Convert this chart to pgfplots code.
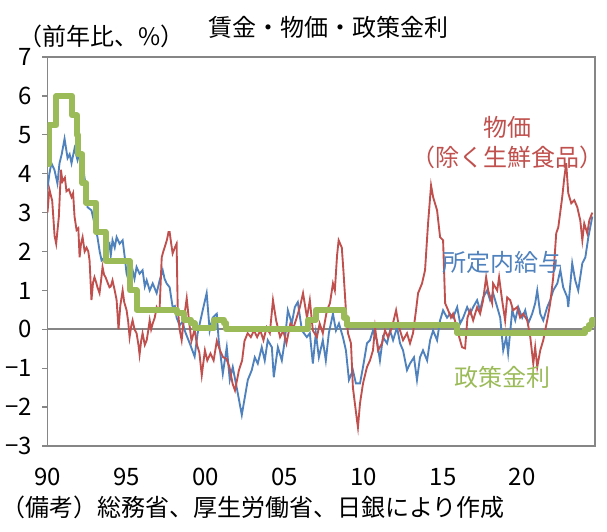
\documentclass[border=0pt]{standalone}
\usepackage{fontspec}
\setmainfont{Noto Sans CJK JP}
\usepackage{pgfplots}
\pgfplotsset{compat=1.18}
\definecolor{wage}{RGB}{79,129,189}
\definecolor{price}{RGB}{192,80,77}
\definecolor{rate}{RGB}{155,187,89}
\definecolor{axgray}{RGB}{134,134,134}
\begin{document}
\begin{tikzpicture}[font=\fontsize{18}{21}\selectfont]
\useasboundingbox (-35.6pt,-63.75pt) rectangle (419.6pt,334.5pt);
\begin{axis}[
  scale only axis,
  width=410.6pt, height=291.75pt,
  at={(0,0)}, anchor=south west,
  xmin=1990, xmax=2024.6, ymin=-3, ymax=7,
  xtick={1990,1995,2000,2005,2010,2015,2020},
  xticklabels={90,95,00,05,10,15,20},
  ytick={-3,-2,-1,0,1,2,3,4,5,6,7},
  yticklabels={−3,−2,−1,0,1,2,3,4,5,6,7},
  axis line style={axgray, line width=1pt},
  tick style={axgray, line width=1pt},
  xtick style={draw=none},
  ytick pos=left, tick align=outside, major tick length=4pt,
  yticklabel style={inner ysep=0pt, text height=13pt, text depth=0pt, xshift=-4pt},
  xticklabel style={inner ysep=0pt, text height=13pt, text depth=0pt, yshift=-12.5pt},
]
\draw[axgray, line width=1.5pt] (axis cs:1990,0) -- (axis cs:2024.6,0);
% 所定内給与
\addplot[wage, line width=1.4pt] coordinates {
(1990.0,3.6) (1990.12,4.0) (1990.25,4.27) (1990.44,4.1) (1990.63,3.75)
(1990.76,4.27) (1990.9,4.5) (1991.08,4.9) (1991.27,4.4) (1991.4,4.5)
(1991.52,4.27) (1991.71,4.65) (1991.9,4.35) (1992.05,4.6) (1992.15,4.5)
(1992.34,3.9) (1992.45,3.6) (1992.53,3.14) (1992.78,3.06) (1992.97,2.72)
(1993.16,2.37) (1993.3,2.0) (1993.42,1.77) (1993.61,1.85) (1993.75,2.1)
(1993.92,2.2) (1994.0,1.9) (1994.11,2.29) (1994.25,2.1) (1994.37,2.37)
(1994.56,2.2) (1994.75,2.29) (1994.9,1.8) (1995.0,1.43) (1995.19,1.18)
(1995.38,1.52) (1995.5,1.3) (1995.63,1.6) (1995.82,1.43) (1996.01,1.52)
(1996.15,1.1) (1996.27,1.26) (1996.46,1.0) (1996.65,1.18) (1996.9,0.93)
(1997.09,1.26) (1997.28,1.52) (1997.4,1.3) (1997.53,1.18) (1997.72,1.08)
(1997.91,0.57) (1998.05,0.6) (1998.16,0.3) (1998.35,0.1) (1998.54,0.2)
(1998.67,-0.03) (1998.99,-0.36) (1999.3,-0.7) (1999.49,-0.1) (1999.81,0.49)
(2000.06,0.93) (2000.25,-0.03) (2000.44,0.3) (2000.7,0.4) (2000.82,-0.28)
(2001.08,-1.14) (2001.33,-0.46) (2001.52,-1.3) (2001.71,-0.97) (2002.03,-1.65)
(2002.28,-2.2) (2002.47,-1.75) (2002.66,-1.3) (2002.91,-1.05) (2003.1,-0.72)
(2003.29,-0.88) (2003.54,-0.46) (2003.73,-0.8) (2003.92,-0.28) (2004.18,-0.46)
(2004.3,-1.23) (2004.56,-0.46) (2004.81,-0.8) (2005.0,-0.28) (2005.19,0.49)
(2005.44,0.15) (2005.63,0.57) (2005.82,0.7) (2006.08,-0.03) (2006.39,-0.2)
(2006.58,-0.1) (2006.77,-0.88) (2006.96,-0.1) (2007.15,-0.72) (2007.4,-0.28)
(2007.59,-0.8) (2007.78,-0.1) (2008.04,0.4) (2008.23,-0.03) (2008.42,0.15)
(2008.67,-0.2) (2008.86,-0.54) (2009.05,-1.3) (2009.3,-1.05) (2009.49,-1.39)
(2009.75,-1.39) (2009.94,-0.97) (2010.19,-0.36) (2010.38,-0.28) (2010.57,-0.03)
(2010.82,-0.28) (2011.01,-0.8) (2011.2,-0.2) (2011.46,-0.36) (2011.65,-0.03)
(2011.84,-0.28) (2012.09,0.05) (2012.28,-0.36) (2012.47,-0.54) (2012.72,-1.05)
(2012.91,-0.88) (2013.16,-0.72) (2013.35,-1.3) (2013.54,-0.72) (2013.73,-0.54)
(2013.99,-0.8) (2014.18,-0.28) (2014.37,-0.03) (2014.62,-0.28) (2014.81,0.23)
(2015.0,0.49) (2015.25,0.3) (2015.44,0.4) (2015.63,0.3) (2015.89,0.57)
(2016.08,0.15) (2016.27,0.3) (2016.52,0.57) (2016.71,0.4) (2016.9,0.57)
(2017.15,0.75) (2017.34,0.49) (2017.53,0.82) (2017.78,1.0) (2017.97,0.75)
(2018.16,0.93) (2018.42,0.57) (2018.61,0.3) (2018.8,-0.54) (2018.99,-0.2)
(2019.11,-0.62) (2019.37,0.49) (2019.56,0.23) (2019.75,0.57) (2020.0,0.3)
(2020.19,0.49) (2020.38,0.15) (2020.63,0.4) (2020.82,0.67) (2020.95,1.0)
(2021.14,0.4) (2021.33,0.23) (2021.58,0.57) (2021.77,0.75) (2021.96,1.0)
(2022.22,1.18) (2022.41,1.52) (2022.59,1.08) (2022.85,0.82) (2022.91,0.57)
(2023.16,1.7) (2023.35,1.26) (2023.54,1.0) (2023.8,1.7) (2023.99,1.85)
(2024.18,2.37) (2024.43,2.9)
};
% 物価（除く生鮮食品）
\addplot[price, line width=1.4pt] coordinates {
(1990.0,3.0) (1990.12,3.6) (1990.3,3.3) (1990.45,2.4) (1990.55,2.2)
(1990.72,2.9) (1990.85,4.1) (1990.95,3.8) (1991.1,3.9) (1991.2,3.55)
(1991.35,3.6) (1991.52,3.4) (1991.62,3.5) (1991.71,2.9) (1991.84,2.55)
(1991.95,2.6) (1992.03,1.85) (1992.12,2.2) (1992.22,2.37) (1992.35,2.0)
(1992.47,2.1) (1992.58,2.0) (1992.66,1.77) (1992.78,0.75) (1992.88,1.2)
(1992.97,1.34) (1993.08,1.2) (1993.16,1.08) (1993.29,0.93) (1993.4,1.3)
(1993.48,1.6) (1993.58,1.4) (1993.67,1.34) (1993.8,1.2) (1993.92,1.08)
(1994.0,1.1) (1994.11,1.26) (1994.25,1.0) (1994.37,0.75) (1994.49,0.0)
(1994.6,0.6) (1994.75,1.0) (1994.85,0.7) (1995.0,0.49) (1995.1,0.2)
(1995.19,-0.2) (1995.3,0.1) (1995.38,0.23) (1995.5,0.0) (1995.63,-0.1)
(1995.75,-0.4) (1995.82,-0.65) (1995.92,-0.3) (1996.01,-0.1) (1996.15,-0.4)
(1996.27,-0.28) (1996.38,0.0) (1996.46,0.23) (1996.55,0.0) (1996.65,0.15)
(1996.78,0.3) (1996.9,0.57) (1997.0,0.5) (1997.09,0.57) (1997.22,1.85)
(1997.32,2.0) (1997.4,2.1) (1997.55,2.3) (1997.65,2.5) (1997.72,2.5)
(1997.82,2.2) (1997.91,1.95) (1998.05,2.1) (1998.16,2.2) (1998.23,0.57)
(1998.35,0.0) (1998.48,-0.28) (1998.6,0.2) (1998.8,0.8) (1998.95,0.2)
(1999.1,-0.3) (1999.3,0.0) (1999.45,-0.4) (1999.6,-0.6) (1999.75,-1.18)
(1999.95,-0.54) (2000.1,-0.8) (2000.3,-0.62) (2000.5,-0.8) (2000.7,-0.3)
(2000.9,-0.54) (2001.1,-0.72) (2001.3,-0.75) (2001.5,-0.97) (2001.7,-1.4)
(2001.85,-1.57) (2002.1,-1.05) (2002.3,-0.8) (2002.45,-0.3) (2002.65,-0.1)
(2002.85,-0.2) (2003.05,-0.03) (2003.25,-0.2) (2003.45,-0.03) (2003.65,-0.28)
(2003.85,0.05) (2004.05,-0.1) (2004.25,0.75) (2004.45,0.23) (2004.7,-0.2)
(2004.9,-0.03) (2005.1,-0.36) (2005.35,0.15) (2005.55,0.05) (2005.75,0.3)
(2005.95,0.57) (2006.15,0.93) (2006.4,0.3) (2006.58,0.75) (2006.77,-0.03)
(2007.03,-0.2) (2007.2,0.15) (2007.4,-0.1) (2007.66,0.49) (2007.85,0.67)
(2008.04,1.18) (2008.16,1.0) (2008.3,1.9) (2008.4,2.29) (2008.6,2.1)
(2008.7,1.52) (2008.86,0.49) (2008.99,-0.1) (2009.18,-0.36) (2009.3,-1.49)
(2009.56,-2.34) (2009.62,-2.52) (2009.75,-1.9) (2009.94,-1.39) (2010.19,-0.97)
(2010.38,-0.8) (2010.57,-0.54) (2010.7,0.05) (2010.89,-0.54) (2011.14,-0.36)
(2011.33,-0.03) (2011.52,-0.2) (2011.77,0.05) (2012.03,0.49) (2012.22,0.05)
(2012.47,-0.28) (2012.72,-0.1) (2012.91,-0.36) (2013.1,-0.1) (2013.29,0.49)
(2013.42,0.93) (2013.67,1.18) (2013.86,1.52) (2014.05,2.72) (2014.24,3.7)
(2014.37,3.4) (2014.62,3.06) (2014.81,2.37) (2015.0,2.29) (2015.13,0.67)
(2015.32,0.49) (2015.5,0.3) (2015.63,0.4) (2015.8,0.15) (2015.95,-0.1)
(2016.2,-0.46) (2016.39,-0.49) (2016.54,0.3) (2016.71,0.49) (2016.9,0.23)
(2017.15,0.57) (2017.34,0.4) (2017.53,0.75) (2017.72,1.34) (2017.85,1.0)
(2018.1,0.67) (2018.16,1.18) (2018.42,1.0) (2018.54,1.34) (2018.73,0.75)
(2018.92,0.23) (2019.05,0.82) (2019.24,0.75) (2019.43,0.49) (2019.68,0.57)
(2019.87,0.3) (2020.06,0.4) (2020.32,0.23) (2020.51,-0.2) (2020.7,-0.88)
(2020.82,-0.46) (2020.95,-0.97) (2021.14,-0.54) (2021.33,-0.28) (2021.58,0.23)
(2021.77,0.67) (2021.96,1.34) (2022.15,2.47) (2022.28,2.62) (2022.53,3.4)
(2022.66,3.9) (2022.78,4.27) (2022.91,3.5) (2023.1,3.24) (2023.29,3.32)
(2023.48,3.14) (2023.67,2.8) (2023.8,2.29) (2023.92,2.72) (2024.11,2.47)
(2024.24,2.8) (2024.43,3.0)
};
% 政策金利
\addplot[rate, line width=4.5pt, const plot, line join=round] coordinates {
(1990.0,4.25) (1990.12,5.25) (1990.57,6.0) (1991.55,5.5) (1991.85,5.0)
(1991.95,4.5) (1992.2,3.75) (1992.45,3.25) (1993.08,2.5) (1993.67,1.75)
(1995.2,1.0) (1995.63,0.5) (1998.2,0.42) (1998.65,0.25) (1999.05,0.15)
(1999.3,0.03) (2000.55,0.25) (2001.15,0.15) (2001.3,0.0) (2006.45,0.25)
(2006.95,0.5) (2008.75,0.3) (2008.9,0.1) (2015.9,-0.1) (2023.95,0.0)
(2024.2,0.1) (2024.4,0.25) (2024.6,0.25)
};
\node[text=price] at (axis cs:2019.1,5.19) {物価};
\node[text=price] at (axis cs:2019.1,4.42) {（除く生鮮食品）};
\node[text=wage] at (axis cs:2018.73,1.72) {所定内給与};
\node[text=rate] at (axis cs:2018.73,-1.23) {政策金利};
\end{axis}
\node at (211pt,314.25pt) {賃金・物価・政策金利};
\node[anchor=west, inner sep=0pt] at (-22pt,307pt) {（前年比、\%）};
\node[anchor=west, inner sep=0pt] at (-35pt,-45.75pt) {（備考）総務省、厚生労働省、日銀により作成};
\end{tikzpicture}
\end{document}
